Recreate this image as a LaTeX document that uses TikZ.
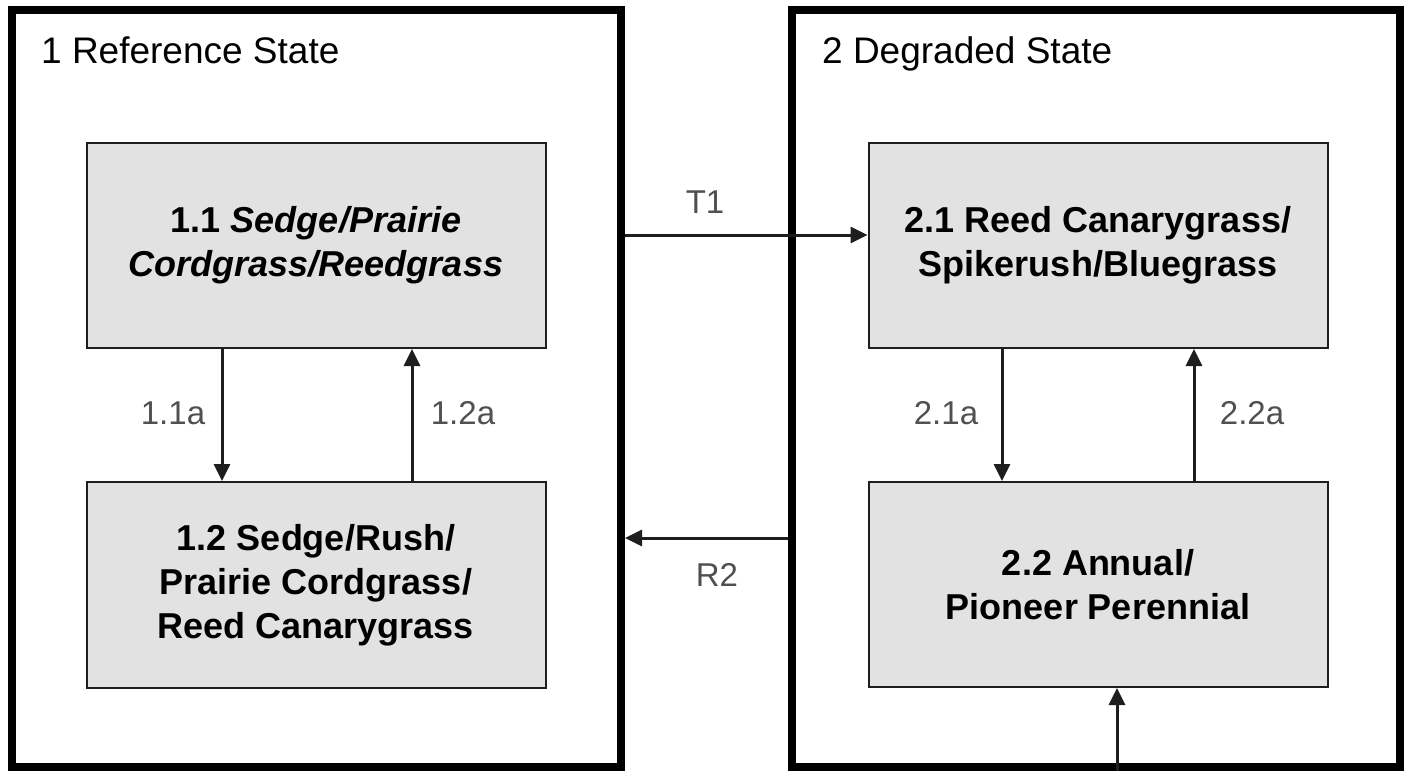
\documentclass[tikz,border=0pt]{standalone}
\usepackage{fontspec}
\setmainfont{Liberation Sans}
\usetikzlibrary{arrows.meta,calc}
\definecolor{boxfill}{HTML}{E2E2E2}
\definecolor{lbl}{HTML}{505050}
\definecolor{lin}{HTML}{1E1E1E}
\begin{document}
\begin{tikzpicture}[x=1pt,y=-1pt,
  outerbox/.style={draw=black,line width=8pt,minimum height=757,inner sep=0pt},
  statebox/.style={draw=lin,line width=2pt,fill=boxfill,minimum width=459,minimum height=205,
    align=center,inner sep=0pt,font=\fontsize{36}{44}\selectfont\bfseries},
  title/.style={anchor=base west,inner sep=0pt,font=\fontsize{37}{40}\selectfont},
  lab/.style={text=lbl,inner sep=0pt,font=\fontsize{33}{36}\selectfont},
  arr/.style={draw=lin,line width=3pt,-{Triangle[length=17pt,width=16pt]}}]
\useasboundingbox (0,0) rectangle (1412,772);
% state containers
\node[outerbox,minimum width=609] (s1) at (316.5,388.5) {};
\node[outerbox,minimum width=608] (s2) at (1096,388.5) {};
\node[title] (t1) at (41,63) {1 Reference State};
\node[title] (t2) at (822,63) {2 Degraded State};
% community phases
\node[statebox] (b11) at (316,245.5) {1.1 \textit{Sedge/Prairie}\\\textit{Cordgrass/Reedgrass}};
\node[statebox,minimum height=206] (b12) at (316,585) {1.2 Sedge/Rush/\\Prairie Cordgrass/\\Reed Canarygrass};
\node[statebox] (b21) at (1098,245.5) {2.1 Reed Canarygrass/\\Spikerush/Bluegrass};
\node[statebox] (b22) at (1098,584.5) {2.2 Annual/\\Pioneer Perennial};
% helper coordinates
\coordinate (xa) at (222,0);
\coordinate (xb) at (412,0);
\coordinate (xc) at (1002,0);
\coordinate (xd) at (1194,0);
\coordinate (xe) at (1117,0);
\coordinate (yt) at (0,235);
\coordinate (yr) at (0,538);
% connectors
\draw[arr] (b11.south -| xa) -- (b12.north -| xa);
\draw[arr] (b12.north -| xb) -- (b11.south -| xb);
\draw[arr] (b21.south -| xc) -- (b22.north -| xc);
\draw[arr] (b22.north -| xd) -- (b21.south -| xd);
\draw[arr] (s1.east |- yt) -- (b21.west |- yt);
\draw[arr] (s2.west |- yr) -- (s1.east |- yr);
\draw[arr] (s2.south -| xe) -- (b22.south -| xe);
% labels
\node[lab] (l11) at (173,413) {1.1a};
\node[lab] (l12) at (463,413) {1.2a};
\node[lab] (l21) at (946,413) {2.1a};
\node[lab] (l22) at (1252,413) {2.2a};
\node[lab] (lt1) at (705,202) {T1};
\node[lab] (lr2) at (717,575) {R2};
\end{tikzpicture}
\end{document}
